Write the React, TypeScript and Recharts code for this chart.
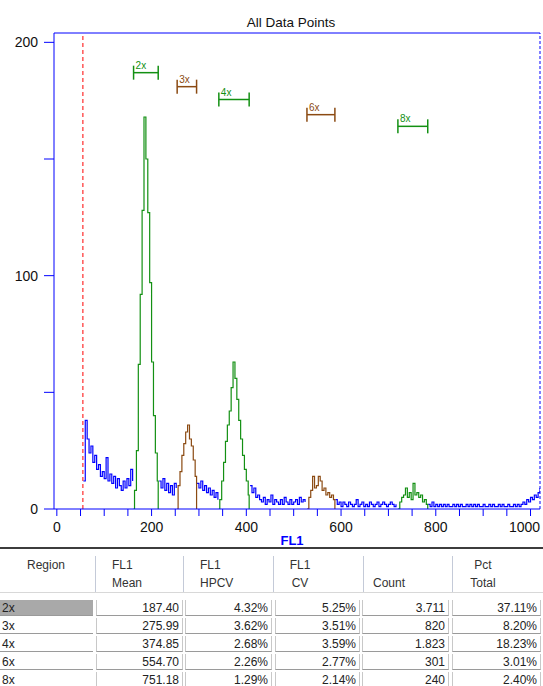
import { Line, LineChart, ReferenceLine, XAxis, YAxis } from 'recharts'

// histogram counts, one value every 4 channels
const STEP = 4

// background (blue) stretches between the gated regions
const bg0 = [12, 38, 30, 24, 27, 20, 23, 17, 19, 14, 16, 13, 22, 12, 15, 11, 14, 9, 13, 10, 8, 12, 9, 13, 10, 17, 12]
const bg1 = [12, 9, 13, 8, 11, 7, 10, 6, 11, 9]
const bg2 = [11, 9, 12, 8, 10, 7, 9, 6, 8, 5, 7, 4]
const bg3 = [10, 7, 9, 5, 6, 4, 3, 5, 2, 4, 3, 6, 2, 4, 3, 2, 4, 2, 5, 3, 2, 4, 2, 3, 4, 2, 5, 3, 4, 3]
const bg4 = [4, 2, 3, 1, 3, 2, 1, 3, 2, 1, 2, 4, 1, 2, 3, 1, 2, 1, 3, 2, 1, 2, 3, 1, 2, 3, 2, 1, 2, 3, 2, 1, 2]
const bg5 = [
  2, 1, 3, 1, 2, 1, 2, 1, 2, 1, 2, 1, 1, 2, 1, 2, 1, 2, 1, 1, 2, 1, 2, 1, 2, 1, 2, 1, 1, 2,
  1, 1, 2, 1, 2, 1, 1, 2, 1, 2, 1, 1, 2, 1, 1, 2, 1, 2, 1, 2, 3, 2, 4, 3, 5, 4, 6, 5, 7, 9,
]
const bgStarts = [56, 216, 296, 408, 588, 784]
const bgCounts = [bg0, bg1, bg2, bg3, bg4, bg5]

// gated peaks
const pk2x = [8, 25, 62, 92, 128, 168, 150, 127, 97, 63, 40, 24, 12]
const pk3x = [10, 16, 23, 28, 33, 36, 30, 27, 21, 14]
const pk4x = [4, 12, 20, 29, 36, 42, 52, 63, 56, 47, 38, 30, 23, 17, 12, 6]
const pk6x = [5, 8, 14, 9, 10, 14, 12, 8, 9, 6, 7, 5, 6, 4]
const pk8x = [3, 5, 6, 9, 5, 7, 4, 11, 6, 7, 5, 6, 3, 4, 2]
const peakStarts = [164, 256, 344, 532, 724]
const peakCounts = [pk2x, pk3x, pk4x, pk6x, pk8x]

const regionNames = ['2x', '3x', '4x', '6x', '8x']
const regionFrom = [162, 254, 342, 528, 720]
const regionTo = [214, 295, 406, 587, 783]
const bracketLevels = [187, 181, 175.5, 169, 164]

const gateChannel = 55
const xTicks = [0, 50, 100, 150, 200, 250, 300, 350, 400, 450, 500, 550, 600, 650, 700, 750, 800, 850, 900, 950, 1000]
const yTicks = [0, 50, 100, 150, 200]

// statistics table
const tableRegions = ['2x', '3x', '4x', '6x', '8x']
const means = ['187.40', '275.99', '374.85', '554.70', '751.18']
const hpcvs = ['4.32%', '3.62%', '2.68%', '2.26%', '1.29%']
const cvs = ['5.25%', '3.51%', '3.59%', '2.77%', '2.14%']
const counts = ['3.711', '820', '1.823', '301', '240']
const pctTotals = ['37.11%', '8.20%', '18.23%', '3.01%', '2.40%']

const BLUE = '#0000ff'
const GREEN = '#139013'
const BROWN = '#8b4a12'
const regionColors = [GREEN, BROWN, GREEN, BROWN, GREEN]
const FONT = '"Liberation Sans", Arial, sans-serif'

type Row = { ch: number; [key: string]: number }

const rows: Row[] = []
bgCounts.forEach((arr, s) =>
  arr.forEach((v, i) => rows.push({ ch: bgStarts[s] + i * STEP, bg: v })),
)
peakCounts.forEach((arr, r) => {
  const key = 'r' + r
  rows.push({ ch: regionFrom[r], [key]: 0 })
  arr.forEach((v, i) => rows.push({ ch: peakStarts[r] + i * STEP, [key]: v }))
  rows.push({ ch: regionTo[r], [key]: 0 })
})
rows.sort((a, b) => a.ch - b.ch)

const colLeft = [0, 96, 185, 275, 362, 452]
const colRight = [93, 183, 272, 360, 449, 541]
const headerSeps = [95, 183, 273, 363, 452]

function XTick(props: any) {
  const v = props.payload.value
  if (v % 200 !== 0) return <g />
  // last label sits against the right edge of the window
  const x = v === 1000 ? props.x - 6 : props.x
  return (
    <text x={x} y={props.y} dy="0.71em" textAnchor="middle" fill="#111" fontSize={14} fontFamily={FONT}>
      {v}
    </text>
  )
}

function HeaderText({ x, y, text, center }: { x: number; y: number; text: string; center?: boolean }) {
  return (
    <div
      style={{
        position: 'absolute',
        left: center ? x - 40 : x,
        width: center ? 80 : undefined,
        textAlign: center ? 'center' : 'left',
        top: y - 8,
        lineHeight: '16px',
        fontSize: 12,
        color: '#333',
      }}
    >
      {text}
    </div>
  )
}

function StatsTable() {
  const columns = [tableRegions, means, hpcvs, cvs, counts, pctTotals]
  return (
    <div style={{ position: 'absolute', left: 0, top: 0, width: 543, height: 686, fontFamily: FONT }}>
      <div style={{ position: 'absolute', left: 0, top: 547, width: 543, height: 2, background: '#3c3c3c' }} />
      {headerSeps.map((x) => (
        <div key={x} style={{ position: 'absolute', left: x, top: 556, width: 1, height: 36, background: '#c4cad8' }} />
      ))}
      <div style={{ position: 'absolute', left: 0, top: 592, width: 543, height: 1, background: '#d8d8d8' }} />
      <HeaderText x={46} y={565} text="Region" center />
      <HeaderText x={112} y={565} text="FL1" />
      <HeaderText x={112} y={583} text="Mean" />
      <HeaderText x={200} y={565} text="FL1" />
      <HeaderText x={200} y={583} text="HPCV" />
      <HeaderText x={300} y={565} text="FL1" center />
      <HeaderText x={300} y={583} text="CV" center />
      <HeaderText x={373} y={583} text="Count" />
      <HeaderText x={483} y={565} text="Pct" center />
      <HeaderText x={483} y={583} text="Total" center />
      {columns.map((col, c) =>
        col.map((val, r) => (
          <div
            key={c + '-' + r}
            style={{
              position: 'absolute',
              left: colLeft[c],
              top: 600 + r * 18,
              width: colRight[c] - colLeft[c],
              height: 16,
              boxSizing: 'border-box',
              borderBottom: '1px solid #9a9a9a',
              borderLeft: c === 0 ? 'none' : '1px solid #c8c8c8',
              borderRight: c === 0 ? 'none' : '1px solid #c8c8c8',
              background: c === 0 && r === 0 ? '#a9a9a9' : '#fff',
              textAlign: c === 0 ? 'left' : 'right',
              padding: c === 0 ? '0 0 0 2px' : '0 3px 0 0',
              fontSize: 12,
              lineHeight: '16px',
              color: '#222',
            }}
          >
            {val}
          </div>
        )),
      )}
    </div>
  )
}

export default function App() {
  return (
    <div style={{ position: 'absolute', left: 0, top: 0, width: 543, height: 686, background: '#fff', fontFamily: FONT }}>
      <div style={{ position: 'absolute', left: 191, top: 14, width: 200, textAlign: 'center', fontSize: 13.5, lineHeight: '17px', color: '#111' }}>
        All Data Points
      </div>
      <div style={{ position: 'absolute', left: 0, top: 0 }}>
        <LineChart width={543} height={548} data={rows} margin={{ top: 33, right: 3, bottom: 9, left: 0 }}>
          <XAxis
            dataKey="ch"
            type="number"
            domain={[-6, 1020]}
            allowDataOverflow
            ticks={xTicks}
            interval={0}
            stroke={BLUE}
            tickSize={7}
            tickMargin={6}
            height={30}
            tick={<XTick />}
          />
          <YAxis
            type="number"
            domain={[0, 204]}
            allowDataOverflow
            ticks={yTicks}
            interval={0}
            tickFormatter={(v: number) => (v % 100 === 0 ? String(v) : '')}
            stroke={BLUE}
            tickSize={10}
            tickMargin={6}
            width={54}
            tick={{ fill: '#111', fontSize: 14, fontFamily: FONT }}
          />
          <ReferenceLine y={204} stroke={BLUE} />
          <ReferenceLine x={1020} stroke={BLUE} strokeDasharray="3 2" />
          <ReferenceLine x={gateChannel} stroke="#ff0000" strokeDasharray="4 3" />
          <Line
            dataKey="bg"
            type="stepAfter"
            stroke={BLUE}
            strokeWidth={1.2}
            dot={false}
            activeDot={false}
            isAnimationActive={false}
          />
          {regionNames.map((name, r) => (
            <Line
              key={name}
              dataKey={'r' + r}
              type="stepAfter"
              stroke={regionColors[r]}
              strokeWidth={1.2}
              dot={false}
              activeDot={false}
              isAnimationActive={false}
            />
          ))}
          {regionNames.map((name, r) => (
            <ReferenceLine
              key={'h' + name}
              segment={[
                { x: regionFrom[r], y: bracketLevels[r] },
                { x: regionTo[r], y: bracketLevels[r] },
              ]}
              stroke={regionColors[r]}
              strokeWidth={1.5}
              label={(props: any) => (
                <text
                  x={props.viewBox.x + 2}
                  y={props.viewBox.y - 4}
                  fill={regionColors[r]}
                  fontSize={10}
                  fontFamily={FONT}
                >
                  {name}
                </text>
              )}
            />
          ))}
          {regionNames.map((name, r) =>
            [regionFrom[r], regionTo[r]].map((x) => (
              <ReferenceLine
                key={'v' + name + x}
                segment={[
                  { x, y: bracketLevels[r] - 3 },
                  { x, y: bracketLevels[r] + 3 },
                ]}
                stroke={regionColors[r]}
                strokeWidth={1.5}
              />
            )),
          )}
        </LineChart>
      </div>
      <div style={{ position: 'absolute', left: 262, top: 533, width: 60, textAlign: 'center', fontSize: 13, fontWeight: 'bold', lineHeight: '16px', color: BLUE }}>
        FL1
      </div>
      <StatsTable />
    </div>
  )
}
